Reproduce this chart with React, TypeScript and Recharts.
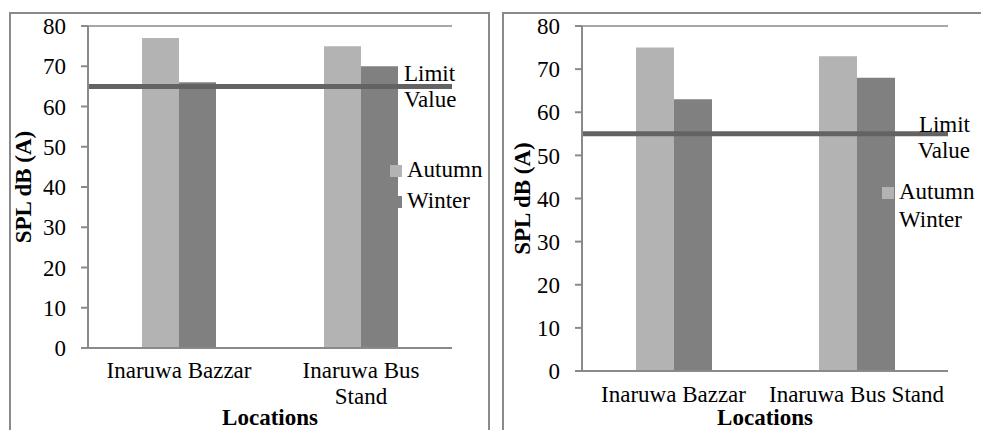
import { Bar, BarChart, Label, Legend, ReferenceLine, XAxis, YAxis } from "recharts";

const FONT = '"Liberation Serif", "Times New Roman", serif';
const INK = "#000";
const AXIS_GREY = "#8a8a8a";
const AUTUMN_FILL = "#b3b3b3";
const WINTER_FILL = "#808080";
const LIMIT_STROKE = "#636363";

// sound pressure levels, dB(A)
const LOCATIONS = ["Inaruwa Bazzar", "Inaruwa Bus Stand"];
const AUTUMN_LEFT = [77, 75];
const WINTER_LEFT = [66, 70];
const LIMIT_LEFT = 65;
const AUTUMN_RIGHT = [75, 73];
const WINTER_RIGHT = [63, 68];
const LIMIT_RIGHT = 55;
const Y_TICKS = [0, 10, 20, 30, 40, 50, 60, 70, 80];

// the narrow panel breaks the long location name onto two lines
const LABEL_LINES_LEFT: Record<string, string[]> = {
  "Inaruwa Bazzar": ["Inaruwa Bazzar"],
  "Inaruwa Bus Stand": ["Inaruwa Bus", "Stand"],
};
const LABEL_LINES_RIGHT: Record<string, string[]> = {
  "Inaruwa Bazzar": ["Inaruwa Bazzar"],
  "Inaruwa Bus Stand": ["Inaruwa Bus Stand"],
};

const buildRows = (autumn: number[], winter: number[]) =>
  LOCATIONS.map((location, i) => ({ location, autumn: autumn[i], winter: winter[i] }));

type LegendLayout = {
  limit: { left: number; top: number; width: number; align: "left" | "right" };
  swatchX: number;
  textX: number;
  baselines: number[];
};

type PanelProps = {
  rows: { location: string; autumn: number; winter: number }[];
  limit: number;
  width: number;
  margin: { top: number; right: number; bottom: number; left: number };
  yAxisWidth: number;
  xAxisHeight: number;
  labelLines: Record<string, string[]>;
  labelBaseline: number;
  yTitleX: number;
  legend: LegendLayout;
};

function LocationTick(props: any) {
  const { x, payload, lines, baseline } = props;
  const parts: string[] = lines[payload.value] ?? [payload.value];
  return (
    <text x={x} y={baseline} textAnchor="middle" fill={INK} fontFamily={FONT} fontSize={23}>
      {parts.map((line, i) => (
        <tspan key={i} x={x} dy={i === 0 ? 0 : 26}>
          {line}
        </tspan>
      ))}
    </text>
  );
}

function SeasonLegend({ payload, layout }: { payload?: any[]; layout: LegendLayout }) {
  const lim = layout.limit;
  return (
    <div style={{ position: "relative", fontFamily: FONT, fontSize: 23, color: INK }}>
      <div
        style={{
          position: "absolute",
          left: lim.left,
          top: lim.top,
          width: lim.width,
          textAlign: lim.align,
          lineHeight: "26px",
          whiteSpace: "nowrap",
        }}
      >
        Limit
        <br />
        Value
      </div>
      {(payload ?? []).map((entry, i) => {
        const base = layout.baselines[i];
        return (
          <div key={entry.value}>
            <div
              style={{
                position: "absolute",
                left: layout.swatchX,
                top: base - 13,
                width: 12,
                height: 12,
                background: entry.color,
              }}
            />
            <div
              style={{
                position: "absolute",
                left: layout.textX,
                top: base - 21,
                lineHeight: "26px",
                whiteSpace: "nowrap",
              }}
            >
              {entry.value}
            </div>
          </div>
        );
      })}
    </div>
  );
}

function SplPanel(p: PanelProps) {
  return (
    <BarChart width={p.width} height={430} data={p.rows} margin={p.margin} barCategoryGap={54} barGap={0}>
      <XAxis
        dataKey="location"
        height={p.xAxisHeight}
        axisLine={{ stroke: AXIS_GREY, strokeWidth: 2 }}
        tickLine={false}
        interval={0}
        tick={<LocationTick lines={p.labelLines} baseline={p.labelBaseline} />}
      >
        <Label
          content={(lp: any) => (
            <text
              x={lp.viewBox.x + lp.viewBox.width / 2}
              y={425}
              textAnchor="middle"
              fontFamily={FONT}
              fontSize={23}
              fontWeight="bold"
              fill={INK}
            >
              Locations
            </text>
          )}
        />
      </XAxis>
      <YAxis
        width={p.yAxisWidth}
        domain={[0, 80]}
        ticks={Y_TICKS}
        interval={0}
        axisLine={{ stroke: AXIS_GREY, strokeWidth: 2 }}
        tickLine={{ stroke: AXIS_GREY, strokeWidth: 2 }}
        tickSize={7}
        tickMargin={15}
        tick={{ fill: INK, fontSize: 23, fontFamily: FONT }}
      >
        <Label
          content={(lp: any) => {
            const cy = lp.viewBox.y + lp.viewBox.height / 2;
            return (
              <text
                x={p.yTitleX}
                y={cy}
                transform={`rotate(-90 ${p.yTitleX} ${cy})`}
                textAnchor="middle"
                fontFamily={FONT}
                fontSize={23}
                fontWeight="bold"
                fill={INK}
              >
                SPL dB (A)
              </text>
            );
          }}
        />
      </YAxis>
      <ReferenceLine y={80} stroke={AXIS_GREY} strokeWidth={1.5} />
      <Bar dataKey="autumn" name="Autumn" fill={AUTUMN_FILL} isAnimationActive={false} />
      <Bar dataKey="winter" name="Winter" fill={WINTER_FILL} isAnimationActive={false} />
      <ReferenceLine y={p.limit} stroke={LIMIT_STROKE} strokeWidth={5} />
      <Legend
        layout="vertical"
        align="center"
        verticalAlign="middle"
        wrapperStyle={{ left: 0, top: 0, width: 0, height: 0 }}
        content={(lp: any) => <SeasonLegend payload={lp.payload} layout={p.legend} />}
      />
    </BarChart>
  );
}

const frame = { position: "absolute" as const, border: `2px solid ${AXIS_GREY}`, boxSizing: "border-box" as const };

export default function App() {
  return (
    <div style={{ position: "absolute", left: 0, top: 0, width: 981, height: 430, overflow: "hidden", background: "#fff" }}>
      <div style={{ ...frame, left: 9, top: 12, width: 481, height: 440 }} />
      <div style={{ ...frame, left: 502, top: 12, width: 500, height: 440 }} />
      <div style={{ position: "absolute", left: 0, top: 0 }}>
        <SplPanel
          rows={buildRows(AUTUMN_LEFT, WINTER_LEFT)}
          limit={LIMIT_LEFT}
          width={490}
          margin={{ top: 26, right: 38, bottom: 22, left: 40 }}
          yAxisWidth={48}
          xAxisHeight={60}
          labelLines={LABEL_LINES_LEFT}
          labelBaseline={378}
          yTitleX={31}
          legend={{
            limit: { left: 404, top: 61, width: 60, align: "left" },
            swatchX: 390,
            textX: 407,
            baselines: [178, 209],
          }}
        />
      </div>
      <div style={{ position: "absolute", left: 490, top: 0 }}>
        <SplPanel
          rows={buildRows(AUTUMN_RIGHT, WINTER_RIGHT)}
          limit={LIMIT_RIGHT}
          width={491}
          margin={{ top: 26, right: 33, bottom: 14, left: 44 }}
          yAxisWidth={48}
          xAxisHeight={45}
          labelLines={LABEL_LINES_RIGHT}
          labelBaseline={402}
          yTitleX={40}
          legend={{
            limit: { left: 420, top: 112, width: 60, align: "right" },
            swatchX: 392,
            textX: 409,
            baselines: [200, 228],
          }}
        />
      </div>
    </div>
  );
}
